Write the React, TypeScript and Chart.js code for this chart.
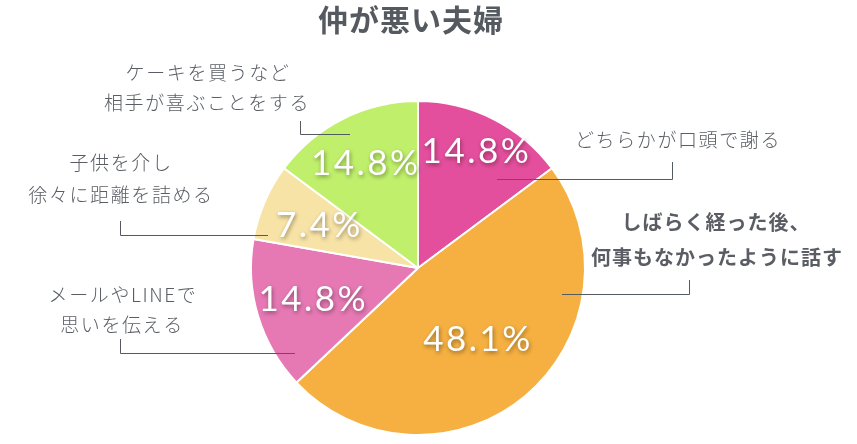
import React, { useEffect, useRef } from "react";
import { Chart, registerables } from "chart.js";

Chart.register(...registerables);

const titleText = "仲が悪い夫婦";
const categories = [
  ["どちらかが口頭で謝る"],
  ["しばらく経った後、", "何事もなかったように話す"],
  ["メールやLINEで", "思いを伝える"],
  ["子供を介し", "徐々に距離を詰める"],
  ["ケーキを買うなど", "相手が喜ぶことをする"],
];
const values = [14.8, 48.1, 14.8, 7.4, 14.8];
const percentLabels = ["14.8%", "48.1%", "14.8%", "7.4%", "14.8%"];
const colors = ["#e44f9d", "#f5b041", "#e679b4", "#f7e3a5", "#c0f06b"];
const boldLabel = [false, true, false, false, false];

// layout of annotations, in pixels relative to the pie centre
const pctRadius = [131, 94, 110, 108, 117];
const leaderStart = [[79, -89], [144, 26], [-123, 85], [-150, -33], [-68, -134]];
const leaderElbowX = [254, 271, -298, -298, -118];
const leaderTopY = [-106, 12, 71, -47, -147];
const labelPos = [
  [[260, -128]],
  [[298, -46], [299, -11]],
  [[-295, 27], [-296, 57]],
  [[-297, -105], [-297, -73]],
  [[-210, -195], [-211, -165]],
];

const annotations = {
  id: "annotations",
  afterDraw(chart: any) {
    const ctx = chart.ctx as CanvasRenderingContext2D;
    const meta = chart.getDatasetMeta(0);
    const first = meta.data[0];
    const cx = first.x;
    const cy = first.y;
    const R = first.outerRadius;
    ctx.save();
    // title
    ctx.fillStyle = "#555a60";
    ctx.textAlign = "center";
    ctx.textBaseline = "middle";
    ctx.font = "bold 30px 'Noto Sans CJK JP'";
    (ctx as any).letterSpacing = "1px";
    ctx.fillText(titleText, 411, 20);

    meta.data.forEach((arc: any, i: number) => {
      // leader lines
      ctx.strokeStyle = "#555a60";
      ctx.lineWidth = 1;
      ctx.beginPath();
      ctx.moveTo(cx + leaderStart[i][0], cy + leaderStart[i][1] + 0.5);
      ctx.lineTo(cx + leaderElbowX[i] + 0.5, cy + leaderStart[i][1] + 0.5);
      ctx.lineTo(cx + leaderElbowX[i] + 0.5, cy + leaderTopY[i]);
      ctx.stroke();

      // category labels
      ctx.fillStyle = "#5a5e64";
      if (boldLabel[i]) {
        ctx.font = "bold 20px 'Noto Sans CJK JP'";
        (ctx as any).letterSpacing = "1px";
      } else {
        ctx.font = "300 19px 'Noto Sans CJK JP'";
        (ctx as any).letterSpacing = "1.6px";
      }
      categories[i].forEach((line, j) => {
        ctx.fillText(line, cx + labelPos[i][j][0], cy + labelPos[i][j][1]);
      });

      // percentage labels
      const mid = (arc.startAngle + arc.endAngle) / 2;
      const px = cx + Math.cos(mid) * pctRadius[i] * (R / 168);
      const py = cy + Math.sin(mid) * pctRadius[i] * (R / 168);
      ctx.save();
      ctx.font = "400 35px Lato";
      (ctx as any).letterSpacing = "2.5px";
      ctx.fillStyle = "#ffffff";
      ctx.shadowColor = "rgba(0,0,0,0.4)";
      ctx.shadowBlur = 4;
      ctx.shadowOffsetX = 1;
      ctx.shadowOffsetY = 2;
      ctx.fillText(percentLabels[i], px, py);
      ctx.restore();
    });
    ctx.restore();
  },
};

export default function App() {
  const ref = useRef<HTMLCanvasElement | null>(null);
  useEffect(() => {
    if (!ref.current) return;
    const chart = new Chart(ref.current, {
      type: "pie",
      data: {
        labels: categories.map((c) => c.join("")),
        datasets: [
          {
            data: values,
            backgroundColor: colors,
            borderColor: "#ffffff",
            borderWidth: 2,
          },
        ],
      },
      options: {
        animation: false,
        responsive: false,
        layout: { padding: { top: 100, bottom: 8, left: 200, right: 221 } },
        plugins: {
          legend: { display: false },
          tooltip: { enabled: false },
          title: { display: false },
        },
      },
      plugins: [annotations],
    });
    return () => chart.destroy();
  }, []);
  return (
    <div style={{ position: "fixed", left: 0, top: 0, width: 857, height: 444, background: "#fff" }}>
      <canvas ref={ref} width={857} height={444} style={{ width: 857, height: 444 }} />
    </div>
  );
}
